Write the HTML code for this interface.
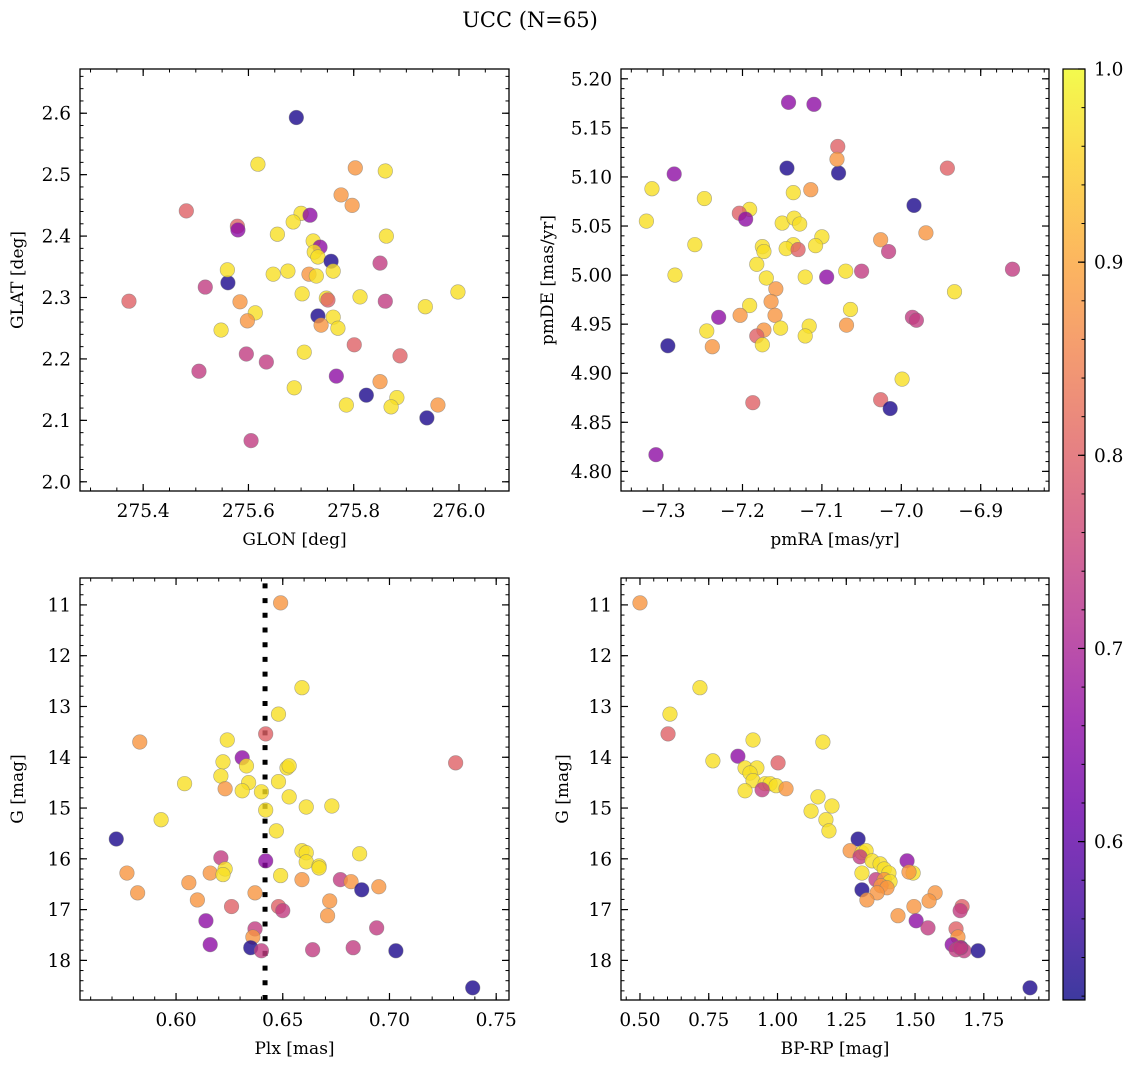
<!DOCTYPE html>
<html><head><meta charset="utf-8"><title>UCC (N=65)</title>
<style>
html,body{margin:0;padding:0;background:#fff;}
svg{display:block;font-family:"DejaVu Serif","Liberation Serif",serif;}
</style></head>
<body>
<svg id="fig" width="1136" height="1068" viewBox="0 0 1136 1068" xmlns="http://www.w3.org/2000/svg">
<defs>
<linearGradient id="plasma" x1="0" y1="1" x2="0" y2="0">
<stop offset="0" stop-color="#0d0887"/><stop offset="0.1" stop-color="#41049d"/><stop offset="0.2" stop-color="#6a00a8"/><stop offset="0.3" stop-color="#8f0da4"/><stop offset="0.4" stop-color="#b12a90"/><stop offset="0.5" stop-color="#cc4778"/><stop offset="0.6" stop-color="#e16462"/><stop offset="0.7" stop-color="#f2844b"/><stop offset="0.8" stop-color="#fca636"/><stop offset="0.9" stop-color="#fcce25"/><stop offset="1" stop-color="#f0f921"/>
</linearGradient>
</defs>
<text x="530" y="27" font-size="21" text-anchor="middle">UCC (N=65)</text>
</svg>
<script>
// ---------- DATA ----------
const glon = [275.691,275.618,275.803,275.860,275.482,275.776,275.797,275.700,275.717,275.685,275.579,275.580,275.655,275.862,275.723,275.736,275.725,275.732,275.757,275.850,275.675,275.647,275.715,275.729,275.761,275.561,275.560,275.518,275.373,275.702,275.748,275.751,275.812,275.584,275.860,275.998,275.936,275.732,275.761,275.613,275.598,275.738,275.770,275.548,275.801,275.596,275.706,275.888,275.634,275.506,275.767,275.850,275.687,275.824,275.882,275.786,275.871,275.960,275.939,275.605];
const glat = [2.593,2.517,2.511,2.506,2.441,2.467,2.450,2.437,2.434,2.423,2.416,2.410,2.403,2.400,2.392,2.382,2.374,2.366,2.359,2.356,2.343,2.338,2.338,2.335,2.343,2.324,2.345,2.317,2.294,2.306,2.299,2.296,2.301,2.293,2.294,2.309,2.285,2.270,2.268,2.275,2.262,2.255,2.250,2.247,2.223,2.208,2.211,2.205,2.195,2.180,2.172,2.163,2.153,2.141,2.137,2.125,2.122,2.125,2.104,2.067];
const probA = [0.53,0.97,0.88,0.97,0.80,0.88,0.88,0.97,0.66,0.97,0.80,0.66,0.97,0.97,0.97,0.66,0.97,0.97,0.53,0.74,0.97,0.97,0.88,0.97,0.97,0.53,0.97,0.74,0.80,0.97,0.97,0.80,0.97,0.88,0.74,0.97,0.97,0.53,0.97,0.97,0.88,0.88,0.97,0.97,0.80,0.74,0.97,0.80,0.74,0.74,0.66,0.88,0.97,0.53,0.97,0.97,0.97,0.88,0.53,0.74];

const pmra = [-7.142,-7.110,-7.286,-7.314,-7.144,-7.079,-7.080,-7.081,-6.942,-7.136,-7.114,-6.984,-7.248,-7.191,-7.321,-7.204,-7.196,-7.150,-7.135,-7.128,-6.969,-7.100,-7.026,-7.260,-7.136,-7.108,-7.175,-7.145,-7.130,-7.016,-7.173,-7.285,-7.182,-7.070,-7.050,-6.860,-7.094,-7.121,-7.170,-7.158,-6.933,-7.164,-7.191,-7.064,-7.159,-7.203,-7.230,-6.986,-6.981,-7.116,-7.152,-7.173,-7.245,-7.182,-7.121,-7.069,-7.294,-7.238,-7.175,-6.999,-7.187,-7.026,-7.014,-7.309];
const pmde = [5.176,5.174,5.103,5.088,5.109,5.104,5.131,5.118,5.109,5.084,5.087,5.071,5.078,5.067,5.055,5.063,5.057,5.053,5.058,5.052,5.043,5.039,5.036,5.031,5.031,5.030,5.029,5.027,5.026,5.024,5.024,5.000,5.011,5.004,5.004,5.006,4.998,4.998,4.997,4.986,4.983,4.973,4.969,4.965,4.959,4.959,4.957,4.957,4.954,4.948,4.946,4.944,4.943,4.938,4.938,4.949,4.928,4.927,4.929,4.894,4.870,4.873,4.864,4.817];
const probB = [0.66,0.66,0.66,0.97,0.53,0.53,0.80,0.88,0.80,0.97,0.88,0.53,0.97,0.97,0.97,0.80,0.66,0.97,0.97,0.97,0.88,0.97,0.88,0.97,0.97,0.97,0.97,0.97,0.80,0.74,0.97,0.97,0.97,0.97,0.74,0.74,0.66,0.97,0.97,0.88,0.97,0.88,0.97,0.97,0.88,0.88,0.66,0.74,0.74,0.97,0.97,0.88,0.97,0.80,0.97,0.88,0.53,0.88,0.97,0.97,0.80,0.80,0.53,0.66];

const plx = [0.649,0.659,0.648,0.583,0.624,0.642,0.631,0.633,0.731,0.622,0.652,0.653,0.604,0.621,0.634,0.623,0.631,0.640,0.648,0.653,0.661,0.673,0.642,0.593,0.647,0.572,0.659,0.661,0.686,0.621,0.642,0.661,0.667,0.667,0.623,0.577,0.616,0.622,0.649,0.659,0.677,0.682,0.606,0.695,0.687,0.582,0.637,0.610,0.672,0.626,0.648,0.650,0.671,0.614,0.694,0.637,0.636,0.616,0.635,0.640,0.664,0.683,0.703,0.739];
const gmagC = [10.96,12.63,13.15,13.70,13.66,13.54,14.01,14.17,14.11,14.09,14.21,14.17,14.52,14.37,14.50,14.62,14.66,14.68,14.48,14.78,14.98,14.96,15.04,15.23,15.45,15.61,15.84,15.88,15.90,15.98,16.04,16.06,16.14,16.18,16.20,16.28,16.28,16.31,16.33,16.41,16.41,16.45,16.47,16.55,16.61,16.67,16.67,16.81,16.83,16.94,16.94,17.02,17.12,17.22,17.36,17.38,17.54,17.69,17.75,17.81,17.79,17.75,17.81,18.54];
const probC = [0.88,0.97,0.97,0.88,0.97,0.80,0.66,0.97,0.80,0.97,0.97,0.97,0.97,0.97,0.97,0.88,0.97,0.97,0.97,0.97,0.97,0.97,0.97,0.97,0.97,0.53,0.97,0.97,0.97,0.74,0.66,0.97,0.97,0.97,0.97,0.88,0.88,0.97,0.97,0.88,0.74,0.88,0.88,0.88,0.53,0.88,0.88,0.88,0.88,0.80,0.80,0.74,0.88,0.66,0.74,0.74,0.88,0.66,0.53,0.74,0.74,0.74,0.53,0.53];
const plxRef = [0.6417];

const bprp = [0.500,0.718,0.609,0.602,0.911,1.165,0.856,1.002,0.765,0.882,0.925,0.900,0.911,0.955,0.973,0.995,0.944,0.882,1.031,1.147,1.122,1.198,1.176,1.187,1.293,1.264,1.307,1.322,1.300,1.344,1.373,1.471,1.307,1.388,1.405,1.493,1.478,1.358,1.388,1.409,1.376,1.398,1.307,1.362,1.573,1.325,1.551,1.496,1.671,1.664,1.438,1.504,1.547,1.649,1.656,1.635,1.667,1.678,1.649,1.664,1.729,1.918];
const gmagD = [10.96,12.63,13.15,13.54,13.66,13.70,13.98,14.11,14.07,14.21,14.21,14.31,14.46,14.52,14.52,14.56,14.64,14.66,14.62,14.78,15.06,14.96,15.23,15.45,15.61,15.84,15.88,15.84,15.96,16.04,16.10,16.04,16.28,16.20,16.28,16.28,16.26,16.41,16.41,16.45,16.53,16.57,16.61,16.67,16.67,16.81,16.83,16.94,16.94,17.02,17.12,17.22,17.36,17.38,17.54,17.69,17.75,17.81,17.79,17.75,17.81,18.54];
const probD = [0.88,0.97,0.97,0.80,0.97,0.97,0.66,0.80,0.97,0.97,0.97,0.97,0.97,0.97,0.97,0.97,0.74,0.97,0.88,0.97,0.97,0.97,0.97,0.97,0.53,0.88,0.97,0.97,0.74,0.97,0.97,0.66,0.97,0.97,0.97,0.97,0.88,0.74,0.88,0.97,0.88,0.88,0.53,0.88,0.88,0.88,0.88,0.88,0.80,0.74,0.88,0.66,0.74,0.80,0.88,0.66,0.53,0.74,0.74,0.74,0.53,0.53];

const ticksGlon = [275.4,275.6,275.8,276.0];
const ticksGlat = [2.0,2.1,2.2,2.3,2.4,2.5,2.6];
const ticksPmra = [-7.3,-7.2,-7.1,-7.0,-6.9];
const ticksPmde = [4.80,4.85,4.90,4.95,5.00,5.05,5.10,5.15,5.20];
const ticksPlx = [0.60,0.65,0.70,0.75];
const ticksG = [11,12,13,14,15,16,17,18];
const ticksBprp = [0.50,0.75,1.00,1.25,1.50,1.75];
const ticksCbar = [0.6,0.7,0.8,0.9,1.0];
const cbarRange = [0.518, 1.0];

// ---------- RENDER ----------
const NS = "http://www.w3.org/2000/svg";
const fig = document.getElementById("fig");
const TICKFS = 18.5, LABFS = 17;
const stops = [[13,8,135],[65,4,157],[106,0,168],[143,13,164],[177,42,144],[204,71,120],[225,100,98],[242,132,75],[252,166,54],[252,206,37],[240,249,33]];
function plasma(t){t=Math.max(0,Math.min(1,t));const f=t*10,i=Math.min(9,Math.floor(f)),r=f-i;const a=stops[i],b=stops[i+1];return "rgb("+a.map((v,k)=>Math.round(v+(b[k]-v)*r)).join(",")+")";}
function mk(tag, attrs, parent){const e=document.createElementNS(NS,tag);for(const k in attrs)e.setAttribute(k,attrs[k]);(parent||fig).appendChild(e);return e;}
function fmt(v,d){return (v<0?"\u2212":"")+Math.abs(v).toFixed(d);}

function panel(cfg){
  const g = mk("g",{});
  
  
  const L=cfg.box[0],T=cfg.box[1],R=cfg.box[2],B=cfg.box[3];
  const sx=v=>L+(v-cfg.xr[0])/(cfg.xr[1]-cfg.xr[0])*(R-L);
  const sy=v=>cfg.yinv? T+(v-cfg.yr[0])/(cfg.yr[1]-cfg.yr[0])*(B-T) : B-(v-cfg.yr[0])/(cfg.yr[1]-cfg.yr[0])*(B-T);
  if(cfg.vline){
    const ln=mk("line",{x1:sx(cfg.vline[0]),x2:sx(cfg.vline[0]),y1:B,y2:T+2,stroke:"#000","stroke-width":5,"stroke-dasharray":"5 9.7"},g);
    
    
  }
  for(let i=0;i<cfg.xs.length;i++){
    const c=mk("circle",{cx:sx(cfg.xs[i]),cy:sy(cfg.ys[i]),r:7.3,fill:plasma((cfg.ps[i]-cbarRange[0])/(cbarRange[1]-cbarRange[0])),"fill-opacity":0.8,stroke:"#777","stroke-opacity":0.6,"stroke-width":0.6},g);
    
    
  }
  const fr=mk("rect",{x:L,y:T,width:R-L,height:B-T,fill:"none",stroke:"#000","stroke-width":1.3},g);
  
  
  for(let v=Math.ceil(cfg.xr[0]/cfg.xm-1e-6)*cfg.xm; v<=cfg.xr[1]; v+=cfg.xm){const x=sx(v);mk("line",{x1:x,x2:x,y1:B,y2:B-3.5,stroke:"#000","stroke-width":1},g);mk("line",{x1:x,x2:x,y1:T,y2:T+3.5,stroke:"#000","stroke-width":1},g);}
  const ylo=Math.min(cfg.yr[0],cfg.yr[1]),yhi=Math.max(cfg.yr[0],cfg.yr[1]);
  for(let v=Math.ceil(ylo/cfg.ym-1e-6)*cfg.ym; v<=yhi; v+=cfg.ym){const y=sy(v);mk("line",{x1:L,x2:L+3.5,y1:y,y2:y,stroke:"#000","stroke-width":1},g);mk("line",{x1:R,x2:R-3.5,y1:y,y2:y,stroke:"#000","stroke-width":1},g);}
  cfg.xt.forEach(v=>{const x=sx(v);mk("line",{x1:x,x2:x,y1:B,y2:B-7,stroke:"#000","stroke-width":1.2},g);mk("line",{x1:x,x2:x,y1:T,y2:T+7,stroke:"#000","stroke-width":1.2},g);
    const t=mk("text",{x:x,y:B+26,"font-size":TICKFS,"text-anchor":"middle"},g);t.textContent=fmt(v,cfg.xd);
    
    });
  cfg.yt.forEach(v=>{const y=sy(v);mk("line",{x1:L,x2:L+7,y1:y,y2:y,stroke:"#000","stroke-width":1.2},g);mk("line",{x1:R,x2:R-7,y1:y,y2:y,stroke:"#000","stroke-width":1.2},g);
    const t=mk("text",{x:L-9,y:y+6.5,"font-size":TICKFS,"text-anchor":"end"},g);t.textContent=fmt(v,cfg.yd);
    
    });
  const xl=mk("text",{x:(L+R)/2,y:B+54,"font-size":LABFS,"text-anchor":"middle"},g);xl.textContent=cfg.xlab;
  
  
  const yl=mk("text",{x:0,y:0,"font-size":LABFS,"text-anchor":"middle",transform:"translate("+cfg.ylx+","+((T+B)/2)+") rotate(-90)"},g);yl.textContent=cfg.ylab;
  
  
}

panel({name:"glon-glat-panel",box:[80,69,509,491],xr:[275.280,276.095],yr:[1.985,2.672],xs:glon,ys:glat,ps:probA,xt:ticksGlon,yt:ticksGlat,xd:1,yd:1,xm:0.05,ym:0.02,xlab:"GLON [deg]",ylab:"GLAT [deg]",ylx:23});
panel({name:"pm-panel",box:[621,69,1049,491],xr:[-7.353,-6.814],yr:[4.780,5.210],xs:pmra,ys:pmde,ps:probB,xt:ticksPmra,yt:ticksPmde,xd:1,yd:2,xm:0.02,ym:0.01,xlab:"pmRA [mas/yr]",ylab:"pmDE [mas/yr]",ylx:553});
panel({name:"plx-g-panel",box:[80,578,509,1000],xr:[0.555,0.756],yr:[10.47,18.78],yinv:true,xs:plx,ys:gmagC,ps:probC,xt:ticksPlx,yt:ticksG,xd:2,yd:0,xm:0.01,ym:0.2,xlab:"Plx [mas]",ylab:"G [mag]",ylx:23,vline:plxRef});
panel({name:"cmd-panel",box:[621,578,1049,1000],xr:[0.431,1.987],yr:[10.47,18.78],yinv:true,xs:bprp,ys:gmagD,ps:probD,xt:ticksBprp,yt:ticksG,xd:2,yd:0,xm:0.05,ym:0.2,xlab:"BP-RP [mag]",ylab:"G [mag]",ylx:568});

const cb=mk("g",{});


const cT=69,cB=1000,cL=1063,cR=1085;
const cy=v=>cB-(v-cbarRange[0])/(cbarRange[1]-cbarRange[0])*(cB-cT);
mk("rect",{x:cL,y:cT,width:cR-cL,height:cB-cT,fill:"url(#plasma)","fill-opacity":0.8},cb);
mk("rect",{x:cL,y:cT,width:cR-cL,height:cB-cT,fill:"none",stroke:"#000","stroke-width":1.2},cb);
for(let v=0.52; v<=1.0001; v+=0.02){mk("line",{x1:cR,x2:cR-3.5,y1:cy(v),y2:cy(v),stroke:"#000","stroke-width":1},cb);}
ticksCbar.forEach(v=>{const y=cy(v);mk("line",{x1:cR,x2:cR-7,y1:y,y2:y,stroke:"#000","stroke-width":1.2},cb);
  const t=mk("text",{x:cR+9,y:y+6.5,"font-size":TICKFS},cb);t.textContent=v.toFixed(1);
  
  });
</script>
</body></html>
